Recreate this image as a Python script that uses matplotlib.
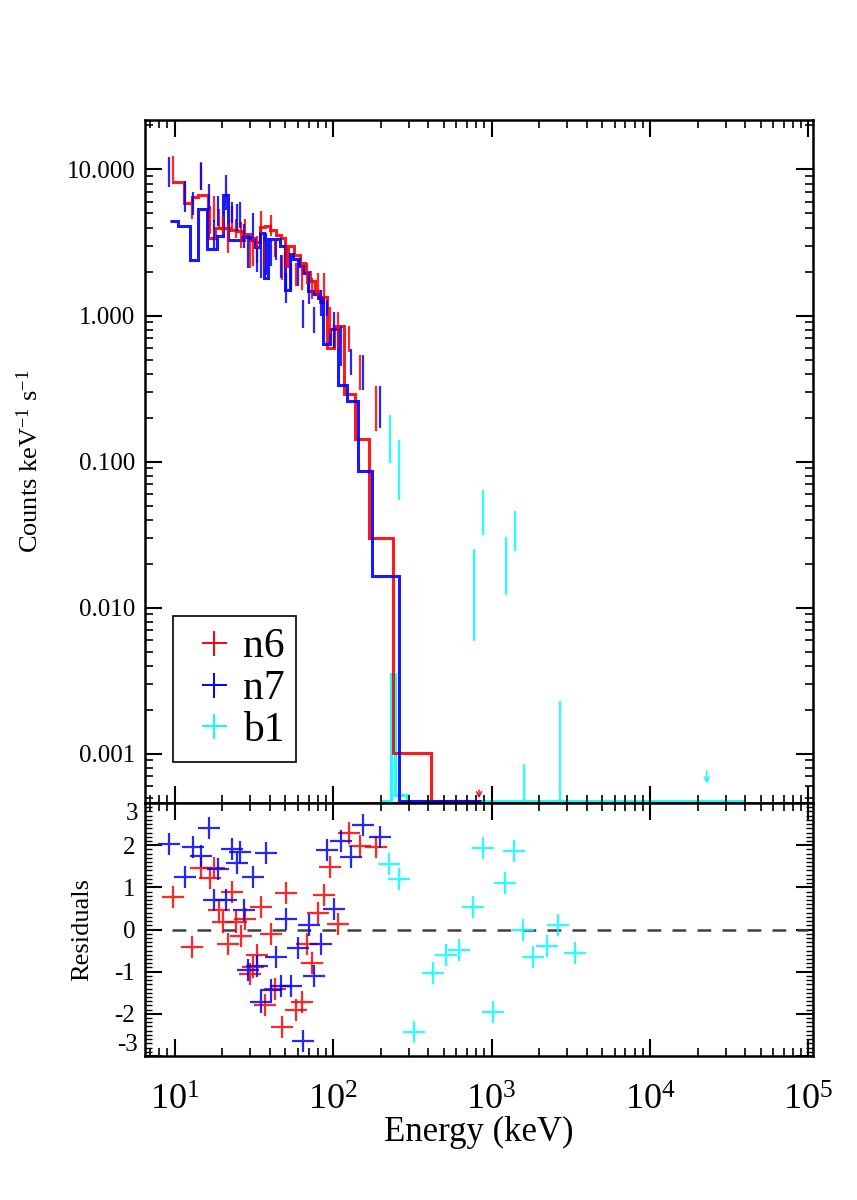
import numpy as np
import matplotlib
matplotlib.use("Agg")
import matplotlib.pyplot as plt
from matplotlib.lines import Line2D
from matplotlib.ticker import FixedLocator, MultipleLocator, FuncFormatter, LogLocator

plt.rcParams['font.family'] = 'serif'
plt.rcParams['font.serif'] = ['Liberation Serif', 'DejaVu Serif']
plt.rcParams['mathtext.fontset'] = 'custom'
plt.rcParams['mathtext.rm'] = 'Liberation Serif'
plt.rcParams['mathtext.it'] = 'Liberation Serif:italic'
plt.rcParams['axes.unicode_minus'] = False

# ---- folded model (step curves), keV edges / counts keV^-1 s^-1 ----
n6_edges = [9.83, 11.48, 12.9, 14.13, 16.3, 17.98, 20.5, 22.6, 24.7, 27.2, 29.95,
            32.2, 34.6, 37.2, 40.0, 43.7, 46.8, 49.8, 52.3, 56.7, 61.9, 66.6, 71.6,
            77.0, 82.7, 86.8, 91.3, 101.8, 116.5, 137.0, 168.5, 239.0, 414.0, 600.0, 860.0]
n6_model = [8.2, 5.9, 6.5, 6.7, 3.4, 4.0, 3.95, 3.85, 3.8, 3.6, 3.4,
            3.2, 4.05, 4.1, 3.85, 3.55, 3.4, 2.2, 3.0, 2.6, 2.3, 2.0, 1.72,
            1.47, 1.23, 1.33, 0.60, 0.85, 0.29, 0.143, 0.0298, 0.00101, 3e-5, 1e-5]

n7_edges = [9.37, 10.57, 12.5, 14.13, 15.96, 18.45, 20.1, 21.85, 26.5, 29.95, 32.2,
            34.6, 36.6, 39.0, 46.3, 49.8, 53.6, 56.1, 61.2, 65.0, 69.9, 75.1, 80.6,
            86.8, 95.9, 108.1, 122.6, 143.0, 176.6, 260.0, 600.0, 860.0]
n7_model = [4.45, 4.1, 2.4, 5.35, 2.86, 3.48, 6.7, 3.3, 3.45, 3.3,
            2.95, 3.7, 1.8, 3.33, 2.97, 1.5, 2.63, 2.44, 2.18, 1.96, 1.47, 1.4,
            1.32, 0.64, 0.81, 0.333, 0.26, 0.0867, 0.0166, 2e-5, 1e-5]

b1_edges = [200.0, 231.0, 244.7, 293.6, 1000.0, 5000.0, 39600.0]
b1_model = [1e-5, 0.0035, 0.00052, 1e-4, 3e-5, 1e-5]

# ---- data error bars (low / high) ----
n6_e = [9.76, 12.9, 14.7, 16.6, 17.6, 19.1, 20.2, 21.7, 23.1, 24.5, 26.4, 27.7, 29.8,
        31.3, 33.1, 35.3, 37.0, 40.4, 42.8, 47.9, 50.7, 58.1, 63.7, 68.5, 74.0, 80.4,
        87.3, 96.2, 108.0, 126.0, 147.0, 186.0]
n6_lo = [8.0, 4.6, 7.4, 3.6, 4.4, 3.9, 3.6, 2.7, 3.9, 3.4, 2.9, 3.2, 2.1,
         2.2, 2.3, 3.7, 2.1, 3.5, 2.5, 1.75, 2.1, 1.6, 1.5, 1.65, 1.3, 1.35,
         1.3, 0.75, 0.6, 0.56, 0.31, 0.163]
n6_hi = [12.4, 6.3, 11.2, 5.6, 6.6, 5.4, 4.8, 4.2, 5.6, 4.6, 4.4, 4.6, 3.3,
         3.4, 3.5, 5.2, 3.2, 4.9, 3.3, 2.6, 3.0, 2.3, 2.2, 2.3, 1.8, 1.95,
         1.95, 1.15, 1.05, 0.85, 0.54, 0.33]
n6_res = [0.78, -0.41, 1.45, 1.22, 1.45, 0.46, 0.18, -0.35, 0.90, 0.18, -0.16, 0.24, -1.05,
          -0.89, -0.61, 0.54, -1.80, -0.10, -1.41, -2.32, 0.87, -1.92, -1.72, -0.35, -0.79, 0.38,
          0.83, 1.49, 0.12, 2.29, 1.99, 1.95]

n7_e = [9.2, 11.7, 13.0, 14.6, 16.5, 17.6, 18.8, 21.2, 23.1, 24.8, 25.7, 27.4, 29.1,
        31.2, 33.1, 35.3, 37.9, 40.8, 43.9, 47.2, 50.7, 54.5, 60.1, 64.7, 70.2, 75.5,
        83.6, 91.6, 101.0, 113.0, 129.0, 155.0, 197.0]
n7_lo = [7.6, 5.1, 4.85, 7.2, 5.25, 2.9, 4.1, 5.3, 4.3, 3.8, 4.0, 2.9, 2.1,
         3.4, 2.0, 1.8, 1.89, 2.2, 2.4, 1.8, 1.22, 1.5, 1.6, 0.82, 1.2, 0.76,
         1.0, 0.99, 0.6, 0.45, 0.39, 0.31, 0.17]
n7_hi = [12.1, 8.4, 7.0, 11.0, 8.0, 4.5, 6.6, 9.1, 6.0, 5.8, 6.0, 4.2, 3.55,
         5.0, 2.9, 2.9, 3.65, 3.3, 3.3, 2.6, 1.94, 2.3, 2.4, 1.27, 1.8, 1.15,
         1.5, 1.27, 1.06, 0.85, 0.59, 0.54, 0.33]
n7_res = [2.03, 1.24, 1.95, 1.75, 2.41, 0.70, 1.44, 0.70, 1.91, 1.57, 1.83, 0.46, -0.95,
          1.24, -0.87, -1.72, 1.81, -1.43, -0.64, -1.33, 0.26, -1.33, -0.45, -2.64, 0.10, -1.10,
          -0.35, 1.88, 0.48, 2.11, 1.72, 2.49, 2.19]

b1_bar_e = [228.0, 262.0, 778.0, 890.0, 1240.0, 1412.0, 1613.0, 2715.0]
b1_bar_lo = [0.098, 0.055, 0.0059, 0.0314, 0.0123, 0.0243, 1e-5, 1e-5]
b1_bar_hi = [0.21, 0.14, 0.0254, 0.064, 0.0304, 0.046, 0.00085, 0.0023]

b1_e = [225.0, 261.0, 326.0, 429.0, 516.0, 627.0, 767.0, 879.0, 1018.0, 1217.0,
        1386.0, 1574.0, 1836.0, 2230.0, 2640.0, 3370.0]
b1_res = [1.56, 1.21, -2.42, -1.02, -0.61, -0.49, 0.54, 1.93, -1.96, 1.10,
          1.87, 0.0, -0.64, -0.39, 0.10, -0.55]

# upper limits (arrows): energy, top, bottom
n6_ul = (834.0, 5.9e-4, 4.75e-4)
b1_ul = (22800.0, 8.0e-4, 6.0e-4)

labels = ['n6', 'n7', 'b1']
colors = ['#ff0000', '#0000ff', '#00ffff']

ylo, yhi = 4.6e-4, 21.8
xlo, xhi = 6.5, 1.07e5

fig = plt.figure(figsize=(8.57, 12), dpi=100)
ax1 = fig.add_axes([0.1692, 0.3308, 0.7795, 0.5692])
ax2 = fig.add_axes([0.1692, 0.12, 0.7795, 0.2108])

# top panel
for e, lo, hi, c in [(n6_e, n6_lo, n6_hi, colors[0]),
                     (n7_e, n7_lo, n7_hi, colors[1]),
                     (b1_bar_e, b1_bar_lo, b1_bar_hi, colors[2])]:
    ax1.vlines(e, lo, hi, color=c, lw=1.6, alpha=0.85)

floor = ylo * 1.03
for ed, mv, c in [(b1_edges, b1_model, colors[2]),
                  (n6_edges, n6_model, colors[0]),
                  (n7_edges, n7_model, colors[1])]:
    ax1.stairs(np.maximum(mv, floor), ed, color=c, lw=2.2, baseline=None, alpha=0.9)

for (e, top, bot), c in [(n6_ul, colors[0]), (b1_ul, colors[2])]:
    ax1.annotate('', xy=(e, bot), xytext=(e, top),
                 arrowprops=dict(arrowstyle='->', color=c, lw=1.0, mutation_scale=9))

ax1.set_xscale('log')
ax1.set_yscale('log')
ax1.set_xlim(xlo, xhi)
ax1.set_ylim(ylo, yhi)
ax1.yaxis.set_major_locator(FixedLocator([0.001, 0.01, 0.1, 1.0, 10.0]))
ax1.yaxis.set_minor_locator(LogLocator(base=10, subs=np.arange(2, 10)))
ax1.yaxis.set_major_formatter(FuncFormatter(lambda v, p: '%.3f' % v))
ax1.tick_params(axis='x', labelbottom=False)
ax1.set_ylabel('Counts keV$^{-1}$ s$^{-1}$', fontsize=19)
ax1.yaxis.set_label_coords(-0.153, 0.5)

handles = [Line2D([], [], ls='none', marker='+', ms=18, mew=1.4, color=c) for c in colors]
leg = ax1.legend(handles, labels, loc='lower left', bbox_to_anchor=(0.0415, 0.0605),
                 borderaxespad=0, fontsize=30, frameon=True, fancybox=False,
                 edgecolor='black', framealpha=1, handlelength=1.4, handletextpad=0.0,
                 labelspacing=0.08, borderpad=0.28)
leg.get_frame().set_linewidth(1.2)

# residual panel
ax2.hlines(0, 9.6, 1e5, colors='0.25', linestyles=(0, (5.5, 4.5)), lw=1.8)
for e, r, c in [(n6_e, n6_res, colors[0]), (n7_e, n7_res, colors[1]), (b1_e, b1_res, colors[2])]:
    ax2.plot(e, r, ls='none', marker='+', ms=16, mew=1.6, color=c, alpha=0.85)

ax2.set_xscale('log')
ax2.set_xlim(xlo, xhi)
ax2.set_ylim(-3, 3)
ax2.yaxis.set_major_locator(MultipleLocator(1))
ax2.yaxis.set_minor_locator(MultipleLocator(0.1))
ax2.yaxis.set_major_formatter(FuncFormatter(lambda v, p: '' if abs(v) > 2.5 else '%d' % round(v)))
ax2.set_xlabel('Energy (keV)', fontsize=25)
ax2.xaxis.set_label_coords(0.5, -0.238)
ax2.set_ylabel('Residuals', fontsize=19)
ax2.yaxis.set_label_coords(-0.078, 0.5)
# end labels of the residual axis sit inside the panel
ax2.text(-0.0105, 1.0, '3', transform=ax2.transAxes, ha='right', va='top', fontsize=18)
ax2.text(-0.0105, 0.0, '-3', transform=ax2.transAxes, ha='right', va='bottom', fontsize=18)

for ax in (ax1, ax2):
    ax.xaxis.set_major_locator(LogLocator(base=10, numticks=10))
    ax.xaxis.set_minor_locator(LogLocator(base=10, subs=np.arange(2, 10), numticks=20))
    ax.tick_params(which='both', direction='in', top=True, right=True)
    ax.tick_params(which='major', length=12, width=1.5)
    ax.tick_params(which='minor', length=6, width=1.2)
    ax.tick_params(axis='y', labelsize=18, pad=7)
    for s in ax.spines.values():
        s.set_linewidth(1.8)
ax2.tick_params(axis='y', which='minor', length=5, width=1.0)
ax2.tick_params(axis='x', labelsize=26, pad=21)

fig.savefig('out.png', dpi=100)
